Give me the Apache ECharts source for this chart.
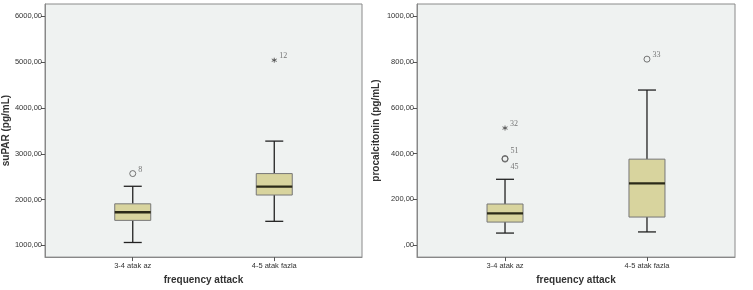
<!DOCTYPE html>
<html>
<head>
<meta charset="utf-8">
<script src="https://cdn.jsdelivr.net/npm/echarts@6/dist/echarts.min.js"></script>
<style>html,body{margin:0;padding:0;background:#fff}#c{width:753px;height:290px}</style>
</head>
<body>
<div id="c"></div>
<script>
// ---- data ----
const categories = ['3-4 atak az', '4-5 atak fazla'];
// [min whisker, Q1, median, Q3, max whisker]
const suparBoxes = [
  [1064, 1547, 1723, 1908, 2291],
  [1526, 2100, 2283, 2568, 3277]
];
const suparCircleOutliers = [[0, 2568, '8']];
const suparStarOutliers = [[1, 5043, '12']];
const suparTicks = [1000, 2000, 3000, 4000, 5000, 6000];

const pctBoxes = [
  [53, 101, 139, 180, 288],
  [58, 123, 270, 376, 678]
];
const pctCircleOutliers = [[0, 379, '51'], [0, 376, '45'], [1, 813, '33']];
const pctStarOutliers = [[0, 512, '32']];
const pctTicks = [0, 200, 400, 600, 800, 1000];

// ---- helpers ----
const fmt = v => (v === 0 ? '' : String(v)) + ',00';
const boxFill = '#d8d49e';
const plotBg = '#eff2f1';
const STAR = 'path://M0,-10L0,10M-8.7,-5L8.7,5M-8.7,5L8.7,-5';

function boxData(boxes) {
  return boxes.map((b, i) => [i].concat(b));
}

function renderBox(params, api) {
  const x = api.value(0);
  const lo = api.coord([x, api.value(1)]);
  const q1 = api.coord([x, api.value(2)]);
  const med = api.coord([x, api.value(3)]);
  const q3 = api.coord([x, api.value(4)]);
  const hi = api.coord([x, api.value(5)]);
  const cx = lo[0];
  const hw = 18, cw = 9;
  const lineStyle = { stroke: '#222', lineWidth: 1.3 };
  return {
    type: 'group',
    children: [
      { type: 'line', shape: { x1: cx, y1: lo[1], x2: cx, y2: q1[1] }, style: lineStyle },
      { type: 'line', shape: { x1: cx, y1: q3[1], x2: cx, y2: hi[1] }, style: lineStyle },
      { type: 'line', shape: { x1: cx - cw, y1: lo[1], x2: cx + cw, y2: lo[1] }, style: lineStyle },
      { type: 'line', shape: { x1: cx - cw, y1: hi[1], x2: cx + cw, y2: hi[1] }, style: lineStyle },
      { type: 'rect', shape: { x: cx - hw, y: q3[1], width: 2 * hw, height: q1[1] - q3[1] },
        style: { fill: boxFill, stroke: '#777', lineWidth: 1 } },
      { type: 'line', shape: { x1: cx - hw, y1: med[1], x2: cx + hw, y2: med[1] },
        style: { stroke: '#2b2a18', lineWidth: 2.4 } }
    ]
  };
}

// points sharing a position get their labels split above / below
function outlierSeries(idx, pts, symbol, size) {
  const data = pts.map((p, i) => {
    const twins = pts.filter(q => q[0] === p[0] && Math.abs(q[1] - p[1]) < 10);
    let offset = [0, -4];
    if (twins.length > 1) {
      offset = twins.indexOf(p) === 0 ? [0, -8] : [0, 8];
    }
    return { value: [p[0], p[1]], name: p[2], label: { offset: offset } };
  });
  return {
    type: 'scatter', xAxisIndex: idx, yAxisIndex: idx,
    data: data,
    symbol: symbol, symbolSize: size,
    itemStyle: symbol === 'circle'
      ? { color: 'rgba(0,0,0,0)', borderColor: '#555', borderWidth: 1 }
      : { color: '#444', borderColor: '#444', borderWidth: 1 },
    label: {
      show: true, formatter: p => p.name, fontFamily: 'Liberation Serif', fontSize: 8, color: '#555',
      position: 'right', distance: 2
    },
    z: 5
  };
}

const commonY = (idx, min, max, ticks, name, gap) => ({
  type: 'value', gridIndex: idx, min: min, max: max,
  name: name, nameLocation: 'middle', nameGap: gap,
  nameTextStyle: { fontFamily: 'Liberation Sans', fontWeight: 'bold', fontSize: 10, color: '#333' },
  axisLine: { show: true, onZero: false, lineStyle: { color: '#888' } },
  axisTick: { show: true, length: 4, customValues: ticks, lineStyle: { color: '#555' } },
  axisLabel: { customValues: ticks, formatter: fmt, fontFamily: 'Liberation Sans', fontSize: 7.5, color: '#333', margin: 3 },
  splitLine: { show: false }
});

const commonX = idx => ({
  type: 'value', gridIndex: idx, min: -0.62, max: 1.62,
  name: 'frequency attack', nameLocation: 'middle', nameGap: 17,
  nameTextStyle: { fontFamily: 'Liberation Sans', fontWeight: 'bold', fontSize: 10, color: '#333' },
  axisLine: { show: true, onZero: false, lineStyle: { color: '#888' } },
  axisTick: { show: true, length: 4, customValues: [0, 1], lineStyle: { color: '#555' } },
  axisLabel: { customValues: [0, 1], formatter: v => categories[Math.round(v)], fontFamily: 'Liberation Sans', fontSize: 7.5, color: '#333', margin: 5 },
  splitLine: { show: false }
});

const chart = echarts.init(document.getElementById('c'), null, { renderer: 'canvas' });
chart.setOption({
  backgroundColor: '#ffffff',
  animation: false,
  grid: [
    { left: 44, top: 4, width: 318, height: 260, show: true, backgroundColor: plotBg, borderColor: '#8a8a8a', borderWidth: 1 },
    { left: 417, top: 4, width: 318, height: 260, show: true, backgroundColor: plotBg, borderColor: '#8a8a8a', borderWidth: 1 }
  ],
  xAxis: [commonX(0), commonX(1)],
  yAxis: [
    commonY(0, 745, 6270, suparTicks, 'suPAR (pg/mL)', 34),
    commonY(1, -52, 1054, pctTicks, 'procalcitonin (pg/mL)', 36)
  ],
  series: [
    { type: 'custom', xAxisIndex: 0, yAxisIndex: 0, data: boxData(suparBoxes), renderItem: renderBox, encode: { x: 0, y: [1, 2, 3, 4, 5] } },
    { type: 'custom', xAxisIndex: 1, yAxisIndex: 1, data: boxData(pctBoxes), renderItem: renderBox, encode: { x: 0, y: [1, 2, 3, 4, 5] } },
    outlierSeries(0, suparCircleOutliers, 'circle', 6),
    outlierSeries(0, suparStarOutliers, STAR, 5),
    outlierSeries(1, pctCircleOutliers, 'circle', 6),
    outlierSeries(1, pctStarOutliers, STAR, 5)
  ]
});
</script>
</body>
</html>
